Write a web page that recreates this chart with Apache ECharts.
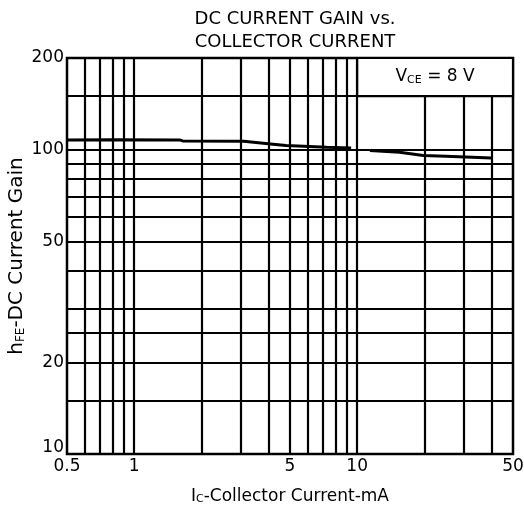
<!DOCTYPE html>
<html>
<head>
<meta charset="utf-8">
<script src="https://cdn.jsdelivr.net/npm/echarts@6/dist/echarts.min.js"></script>
<style>
  html, body { margin: 0; padding: 0; background: #fff; }
  #chart { width: 524px; height: 517px; }
</style>
</head>
<body>
<div id="chart"></div>
<script>
// hFE vs Ic, VCE = 8 V
var icLeft = [0.5, 0.8, 1.6, 1.65, 3.1, 4.2, 4.8, 7.3, 9.4]
var hfeLeft = [107.6, 107.8, 107.6, 106.8, 106.5, 104.2, 103.2, 101.9, 101.2]
var icRight = [11.4, 15.5, 19.8, 25, 40]
var hfeRight = [99.3, 98, 95.7, 95.2, 93.8]

// grid lines of the log paper
var xGridFull = [0.6, 0.7, 0.8, 0.9, 1, 2, 3, 4, 5, 6, 7, 8, 9, 10]
var xGridLow = [20, 30, 40]
var yGrid = [15, 20, 25, 30, 40, 50, 60, 70, 80, 90, 100, 150]
var xLabels = [0.5, 1, 5, 10, 50]
var yLabels = [10, 20, 50, 100, 200]

var curve = []
icLeft.forEach(function (x, i) { curve.push([x, hfeLeft[i]]) })
curve.push([10, null]) // the printed curve breaks at the 10 mA line
icRight.forEach(function (x, i) { curve.push([x, hfeRight[i]]) })

var gridLines = []
xGridFull.forEach(function (v) { gridLines.push({ xAxis: v }) })
xGridLow.forEach(function (v) { gridLines.push([{ coord: [v, 10] }, { coord: [v, 150] }]) })
yGrid.forEach(function (v) { gridLines.push({ yAxis: v }) })

var font = 'DejaVu Sans, sans-serif'

var chart = echarts.init(document.getElementById('chart'))
chart.setOption({
  animation: false,
  title: {
    text: 'DC CURRENT GAIN vs.\nCOLLECTOR CURRENT',
    left: 290,
    textAlign: 'center',
    top: 3,
    textStyle: {
      fontFamily: font,
      fontSize: 18,
      fontWeight: 'normal',
      color: '#000',
      lineHeight: 23
    }
  },
  grid: {
    left: 67,
    right: 11,
    top: 58,
    bottom: 63,
    outerBoundsMode: 'none',
    containLabel: false,
    show: true,
    borderColor: '#000',
    borderWidth: 2.5
  },
  xAxis: {
    type: 'log',
    min: 0.5,
    max: 50,
    name: '{n|I}{s|C}{n|-Collector Current-mA}',
    nameLocation: 'middle',
    nameGap: 34,
    nameMoveOverlap: false,
    nameTextStyle: {
      rich: {
        n: { fontFamily: font, fontSize: 17, color: '#000' },
        s: { fontFamily: font, fontSize: 11, color: '#000', verticalAlign: 'bottom', padding: [5, 0, 0, 0] }
      }
    },
    axisLine: { show: false },
    axisTick: { show: false },
    splitLine: { show: false },
    axisLabel: {
      customValues: xLabels,
      showMinLabel: true,
      showMaxLabel: true,
      margin: 4,
      fontFamily: font,
      fontSize: 17,
      color: '#000'
    }
  },
  yAxis: {
    type: 'log',
    min: 10,
    max: 200,
    name: '{n|h}{s|FE}{n|-DC Current Gain}',
    nameLocation: 'middle',
    nameGap: 40,
    nameMoveOverlap: false,
    nameTextStyle: {
      rich: {
        n: { fontFamily: font, fontSize: 20, color: '#000' },
        s: { fontFamily: font, fontSize: 12, color: '#000', verticalAlign: 'bottom', padding: [6, 0, 0, 0] }
      }
    },
    axisLine: { show: false },
    axisTick: { show: false },
    splitLine: { show: false },
    axisLabel: {
      customValues: yLabels,
      showMinLabel: true,
      showMaxLabel: true,
      margin: 3,
      fontFamily: font,
      fontSize: 17,
      color: '#000',
      formatter: function (v) {
        return v === 10 ? '{lift|10}' : String(v)
      },
      rich: {
        lift: { fontFamily: font, fontSize: 17, color: '#000', padding: [0, 0, 12, 0] }
      }
    }
  },
  series: [
    {
      name: 'grid',
      type: 'line',
      data: [],
      silent: true,
      markLine: {
        silent: true,
        symbol: 'none',
        label: { show: false },
        lineStyle: { color: '#000', width: 2.2, type: 'solid' },
        data: gridLines
      },
      markArea: {
        silent: true,
        itemStyle: { color: '#fff', borderColor: '#000', borderWidth: 2.2 },
        label: {
          show: true,
          position: 'inside',
          formatter: '{n|V}{s|CE}{n| = 8 V}',
          rich: {
            n: { fontFamily: font, fontSize: 17, color: '#000' },
            s: { fontFamily: font, fontSize: 11, color: '#000', verticalAlign: 'bottom', padding: [5, 0, 0, 0] }
          }
        },
        data: [[{ coord: [10, 150] }, { coord: [50, 200] }]]
      }
    },
    {
      name: 'hFE',
      type: 'line',
      data: curve,
      symbol: 'none',
      connectNulls: false,
      z: 5,
      lineStyle: { color: '#000', width: 3 }
    }
  ]
})
</script>
</body>
</html>
